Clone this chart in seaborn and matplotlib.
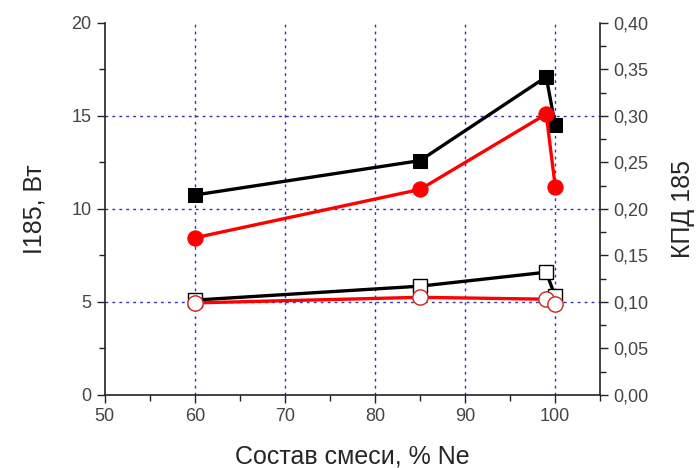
import matplotlib
matplotlib.use("Agg")
import matplotlib.pyplot as plt
import seaborn as sns
import pandas as pd
from matplotlib.ticker import MultipleLocator, FuncFormatter

# composition, % Ne
ne_pct = [60, 85, 99, 100]

# I185, W (left axis)
power_black = [10.75, 12.6, 17.1, 14.5]
power_red = [8.45, 11.05, 15.1, 11.2]

# KPD 185 (right axis)
eff_black = [0.102, 0.117, 0.132, 0.106]
eff_red = [0.099, 0.105, 0.103, 0.098]

sns.set_style("ticks")
plt.rcParams['font.family'] = ['Liberation Sans', 'DejaVu Sans']

df = pd.DataFrame({
    'ne': ne_pct,
    'p_black': power_black,
    'p_red': power_red,
    'e_black': eff_black,
    'e_red': eff_red,
})

fig = plt.figure(figsize=(6.98, 4.68), dpi=100)
ax = fig.add_axes([0.150, 0.156, 0.710, 0.795])
ax2 = ax.twinx()

grid_col = '#2f2fb0'
for x in [60, 70, 80, 90, 100]:
    ax.axvline(x, color=grid_col, ls=(0, (2, 3)), lw=1, zorder=0)
for y in [5, 10, 15]:
    ax.axhline(y, color=grid_col, ls=(0, (2, 3)), lw=1, zorder=0)

# filled: power
sns.lineplot(data=df, x='ne', y='p_black', ax=ax, color='black', lw=2.4,
             marker='s', markersize=10, markeredgecolor='black', zorder=5)
sns.lineplot(data=df, x='ne', y='p_red', ax=ax, color='#ff0000', lw=2.4,
             marker='o', markersize=11, markeredgecolor='#ff0000', zorder=5)

# open: efficiency
sns.lineplot(data=df, x='ne', y='e_black', ax=ax2, color='black', lw=2.4,
             marker='s', markersize=10, markerfacecolor='white',
             markeredgecolor='black', markeredgewidth=1, zorder=4)
sns.lineplot(data=df, x='ne', y='e_red', ax=ax2, color='#ff0000', lw=2.4,
             marker='o', markersize=11, markerfacecolor='white',
             markeredgecolor='#cc2222', markeredgewidth=1, zorder=4)

ax.set_xlim(50, 105)
ax.set_ylim(0, 20)
ax2.set_ylim(0, 0.4)

ax.xaxis.set_major_locator(MultipleLocator(10))
ax.xaxis.set_minor_locator(MultipleLocator(5))
ax.yaxis.set_major_locator(MultipleLocator(5))
ax.yaxis.set_minor_locator(MultipleLocator(2.5))
ax2.yaxis.set_major_locator(MultipleLocator(0.05))
ax2.yaxis.set_minor_locator(MultipleLocator(0.025))
ax2.yaxis.set_major_formatter(FuncFormatter(lambda v, p: f"{v:.2f}".replace('.', ',')))

for a in (ax, ax2):
    a.spines['top'].set_visible(False)
    for s in a.spines.values():
        s.set_color('#222222')
        s.set_linewidth(1.2)
    a.tick_params(which='major', length=6, width=1, color='#222222',
                  labelsize=13, labelcolor='#444444')
    a.tick_params(which='minor', length=4, width=1, color='#222222')
ax.spines['right'].set_visible(False)
ax2.spines['left'].set_visible(False)
ax2.spines['bottom'].set_visible(False)

ax.set_xlabel('Состав смеси, % Ne', fontsize=18, labelpad=14)
ax.set_ylabel('I185, Вт', fontsize=18, labelpad=18)
ax2.set_ylabel('КПД 185', fontsize=18, labelpad=16)

fig.savefig('out.png', dpi=100)
